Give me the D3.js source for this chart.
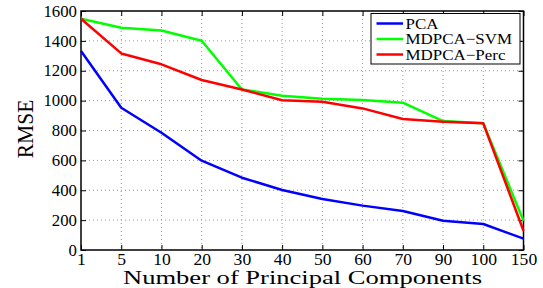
<!DOCTYPE html>
<html>
<head>
<meta charset="utf-8">
<script src="https://cdn.jsdelivr.net/npm/d3@7"></script>
<style>
body { margin: 0; background: #fff; }
svg text { font-family: "Liberation Serif", "Times New Roman", "DejaVu Serif", serif !important; }
</style>
</head>
<body>
<svg id="chart" width="543" height="288"></svg>
<script>
// number of principal components (categorical, evenly spaced)
var components = ["1", "5", "10", "20", "30", "40", "50", "60", "70", "90", "100", "150"];
var pca = [1332, 952, 785, 598, 484, 402, 341, 297, 261, 196, 174, 76];
var mdpcaSvm = [1548, 1488, 1470, 1401, 1075, 1033, 1013, 1004, 986, 863, 848, 196];
var mdpcaPerc = [1548, 1316, 1243, 1138, 1075, 1002, 993, 948, 877, 859, 848, 129];
var yTicks = [0, 200, 400, 600, 800, 1000, 1200, 1400, 1600];

var series = [
	{ name: "PCA", values: pca, color: "#0000ff" },
	{ name: "MDPCA\u2212SVM", values: mdpcaSvm, color: "#00ff00" },
	{ name: "MDPCA\u2212Perc", values: mdpcaPerc, color: "#ff0000" }
];

var margin = { top: 11, right: 19.5, bottom: 38, left: 81 };
var width = 543 - margin.left - margin.right;
var height = 288 - margin.top - margin.bottom;

var svg = d3.select("#chart");
var g = svg.append("g")
	.attr("transform", "translate(" + margin.left + "," + margin.top + ")");

var x = d3.scalePoint().domain(components).range([0, width]);
var y = d3.scaleLinear().domain([0, 1600]).range([height, 0]);

// the original figure is a bit wider than tall, stretch the glyphs a little
function stretch (sel, k) {
	sel.each(function () {
		var w = this.getComputedTextLength();
		d3.select(this).attr("textLength", w * k).attr("lengthAdjust", "spacingAndGlyphs");
	});
}

// grid
g.append("g").selectAll("line").data(components.slice(1, -1)).enter()
	.append("line")
	.attr("x1", function (d) { return x(d); })
	.attr("x2", function (d) { return x(d); })
	.attr("y1", 0).attr("y2", height)
	.attr("stroke", "#999").attr("stroke-width", 1)
	.attr("stroke-dasharray", "1,3");
g.append("g").selectAll("line").data(yTicks.slice(1, -1)).enter()
	.append("line")
	.attr("y1", function (d) { return y(d); })
	.attr("y2", function (d) { return y(d); })
	.attr("x1", 0).attr("x2", width)
	.attr("stroke", "#999").attr("stroke-width", 1)
	.attr("stroke-dasharray", "1,3");

// axes
function styleAxis (sel) {
	sel.attr("font-family", null);
	sel.select(".domain").remove();
	sel.selectAll(".tick line").attr("stroke", "#000");
	sel.selectAll(".tick text")
		.attr("font-size", 16)
		.attr("fill", "#000");
}
g.append("g").attr("transform", "translate(0," + height + ")")
	.call(d3.axisBottom(x).tickSizeInner(-5).tickPadding(4))
	.call(styleAxis)
	.selectAll(".tick text").call(stretch, 1.1);
g.append("g")
	.call(d3.axisLeft(y).tickValues(yTicks).tickFormat(d3.format("d")).tickSizeInner(-5).tickPadding(4))
	.call(styleAxis)
	.selectAll(".tick text").call(stretch, 1.05);
g.append("g")
	.call(d3.axisTop(x).tickSizeInner(-5).tickFormat(""))
	.call(styleAxis);
g.append("g").attr("transform", "translate(" + width + ",0)")
	.call(d3.axisRight(y).tickValues(yTicks).tickSizeInner(-5).tickFormat(""))
	.call(styleAxis);

g.append("rect")
	.attr("width", width).attr("height", height)
	.attr("fill", "none").attr("stroke", "#000").attr("stroke-width", 1.5);

// lines
var line = d3.line()
	.x(function (d, i) { return x(components[i]); })
	.y(function (d) { return y(d); });

series.forEach(function (s) {
	g.append("path")
		.datum(s.values)
		.attr("d", line)
		.attr("fill", "none")
		.attr("stroke", s.color)
		.attr("stroke-width", 2.5)
		.attr("stroke-linejoin", "round");
});

// legend
var legend = svg.append("g").attr("transform", "translate(371,13.5)");
legend.append("rect")
	.attr("width", 149).attr("height", 50.5)
	.attr("fill", "#fff").attr("stroke", "#000").attr("stroke-width", 1);
series.forEach(function (s, i) {
	var yy = 10 + i * 15.5;
	legend.append("line")
		.attr("x1", 5.5).attr("x2", 32)
		.attr("y1", yy).attr("y2", yy)
		.attr("stroke", s.color).attr("stroke-width", 2.5);
	legend.append("text")
		.attr("x", 34.5).attr("y", yy + 5)
		.attr("font-size", 15)
		.text(s.name)
		.call(stretch, 1.13);
});

// axis titles
svg.append("text")
	.attr("x", 302.5).attr("y", 284)
	.attr("text-anchor", "middle")
	.attr("font-size", 19)
	.attr("textLength", 359).attr("lengthAdjust", "spacingAndGlyphs")
	.text("Number of Principal Components");
svg.append("text")
	.attr("transform", "translate(33,129) rotate(-90) scale(1,1.12)")
	.attr("text-anchor", "middle")
	.attr("font-size", 21.5)
	.text("RMSE");
</script>
</body>
</html>
